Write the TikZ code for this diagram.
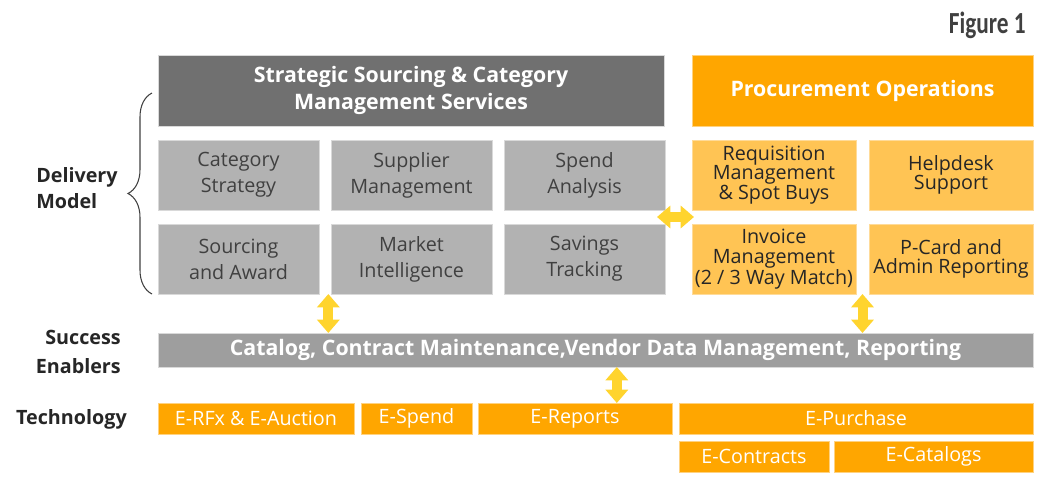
\documentclass[tikz,border=0pt]{standalone}
\usepackage{fontspec}
\setmainfont{Open Sans}
\newfontfamily\figfont{Carlito}
\usetikzlibrary{%
	calc,%
	arrows.meta,%
	positioning,%
	decorations.pathreplacing,%
}
\definecolor{cdarkgray}{RGB}{112, 112, 112}
\definecolor{clightgray}{RGB}{178, 178, 178}
\definecolor{cbargray}{RGB}{158, 158, 158}
\definecolor{corange}{RGB}{255, 166, 0}
\definecolor{corangelight}{RGB}{255, 196, 84}
\definecolor{cyellow}{RGB}{255, 212, 46}
\definecolor{ctext}{RGB}{38, 38, 38}
\definecolor{cboxtext}{RGB}{64, 64, 64}
\tikzset{
	box/.style={%
			rectangle,%
			outer sep=0,%
			inner sep=2pt,%
			align=center,%
			line width=0.5pt},%
	header/.style={%
			box,%
			draw=white!85!black,%
			minimum height=53.25pt,%
			text=white,%
			font=\fontsize{16}{20.25}\selectfont\bfseries},%
	ssheader/.style={header, fill=cdarkgray, minimum width=379.5pt},%
	opsheader/.style={header, fill=corange, draw=corange!50!white, minimum width=255.75pt},%
	service/.style={%
			box,%
			fill=clightgray,%
			draw=white!85!black,%
			text=cboxtext,%
			minimum width=120.75pt,%
			minimum height=52.5pt,%
			font=\fontsize{14.8}{19.5}\selectfont},%
	operation/.style={%
			box,%
			fill=corangelight,%
			draw=corange!40!white,%
			text=ctext,%
			inner xsep=0,%
			minimum width=123pt,%
			minimum height=52.5pt,%
			font=\fontsize{14.8}{14.5}\selectfont},%
	enabler/.style={%
			box,%
			fill=cbargray,%
			draw=white!85!black,%
			text=white,%
			minimum width=656.25pt,%
			minimum height=25.5pt,%
			font=\fontsize{16}{20}\selectfont\bfseries},%
	tech/.style={%
			box,%
			fill=corange,%
			draw=corange!50!white,%
			text=white,%
			minimum height=23.25pt,%
			font=\fontsize{14.8}{19}\selectfont},%
	rowlabel/.style={%
			text=ctext,%
			inner sep=0,%
			font=\fontsize{14.8}{19}\selectfont\bfseries},%
	dblarrow/.style={%
			draw=cyellow,%
			line width=7.5pt,%
			{Triangle[length=10pt,width=16.5pt]}-{Triangle[length=10pt,width=16.5pt]}},%
}

\begin{document}
\begin{tikzpicture}[x=0.75pt, y=-0.75pt]%
	\useasboundingbox (0,0) rectangle (1050,486);

	% headers
	\node[ssheader, anchor=north west] (sshead) at (158,55) {Strategic Sourcing \& Category\\Management Services};
	\node[opsheader, anchor=north west] (opshead) at (692,55) {Procurement Operations};

	% sourcing and category services
	\node[service, below=10.5pt of sshead.south west, anchor=north west] (catstrat) {Category\\Strategy};
	\node[service, right=9pt of catstrat] (suppmgmt) {Supplier\\Management};
	\node[service, right=9pt of suppmgmt] (spend) {Spend\\Analysis};
	\node[service, below=10.5pt of catstrat] (srcaward) {Sourcing\\and Award};
	\node[service, right=9pt of srcaward] (mktintel) {Market\\Intelligence};
	\node[service, right=9pt of mktintel] (savings) {Savings\\Tracking};

	% procurement operations
	\node[operation, below=10.5pt of opshead.south west, anchor=north west] (requisition) {Requisition\\Management\\\& Spot Buys};
	\node[operation, right=9.75pt of requisition] (helpdesk) {Helpdesk\\Support};
	\node[operation, below=10.5pt of requisition] (invoice) {Invoice\\Management\\(2 / 3 Way Match)};
	\node[operation, right=9.75pt of invoice] (pcard) {P-Card and\\Admin Reporting};

	% success enablers
	\node[enabler, below=29.25pt of srcaward.south west, anchor=north west] (enablers) {Catalog, Contract Maintenance,Vendor Data Management, Reporting};

	% technology
	\node[tech, minimum width=147pt, below=27pt of enablers.south west, anchor=north west] (erfx) {E-RFx \& E-Auction};
	\node[tech, minimum width=83.25pt, right=5.25pt of erfx] (espend) {E-Spend};
	\node[tech, minimum width=145.5pt, right=4.5pt of espend] (ereports) {E-Reports};
	\node[tech, minimum width=265.5pt, right=5.25pt of ereports] (epurchase) {E-Purchase};
	\node[tech, minimum width=112.5pt, below=5.25pt of epurchase.south west, anchor=north west] (econtracts) {E-Contracts};
	\node[tech, minimum width=149.25pt, below=5.25pt of epurchase.south east, anchor=north east] (ecatalogs) {E-Catalogs};

	% row labels
	\node[rowlabel, align=left, anchor=west] (delivery) at (36,188) {Delivery\\Model};
	\node[rowlabel, align=right, anchor=east, font=\fontsize{14.8}{21.5}\selectfont\bfseries] (success) at (121,352) {Success\\Enablers};
	\node[rowlabel, anchor=east] (technology) at (127,419) {Technology};
	\node[anchor=north east, inner sep=0, text=cboxtext] (figlabel) at (1026,12) {\scalebox{0.76}[1]{\figfont\fontsize{23}{23}\selectfont\bfseries Figure 1}};

	\draw[cboxtext, line width=0.8pt, decorate, decoration={brace, amplitude=18pt}] ([xshift=-4.5pt]srcaward.south west) -- ([xshift=-4.5pt]sshead.north west |- 0,93);

	% arrows
	\coordinate (vleft) at ([xshift=2.5pt]$(srcaward.south east)!0.5!(mktintel.south west)$);
	\coordinate (vright) at ($(invoice.south east)!0.5!(pcard.south west)$);
	\coordinate (vmid) at ([xshift=16pt]enablers.south);
	\draw[dblarrow] (vleft) -- (vleft |- enablers.north);
	\draw[dblarrow] (vright) -- (vright |- enablers.north);
	\draw[dblarrow] (vmid) -- (vmid |- ereports.north);
	\draw[dblarrow] ([xshift=-6pt]$(spend.south east)!0.5!(savings.north east)$) -- ([xshift=1.5pt]$(requisition.south west)!0.5!(invoice.north west)$);
\end{tikzpicture}
\end{document}
